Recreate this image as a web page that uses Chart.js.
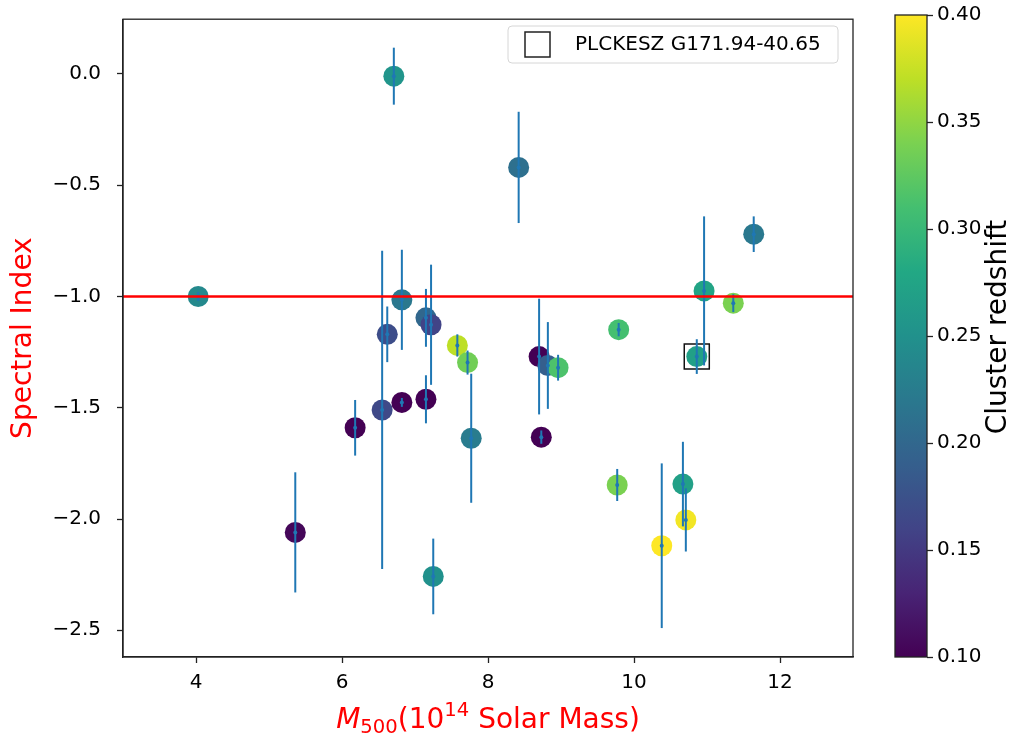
<!DOCTYPE html>
<html>
<head>
<meta charset="utf-8">
<script src="https://cdn.jsdelivr.net/npm/chart.js@4.4.1/dist/chart.umd.min.js"></script>
<style>
  html, body { margin: 0; padding: 0; background: #fff; }
  #wrap { position: relative; width: 1015px; height: 738px; }
  #mainChart { position: absolute; left: 0; top: 0; }
  #cbChart { position: absolute; left: 880px; top: 0; }
</style>
</head>
<body>
<div id="wrap">
  <canvas id="mainChart" width="1015" height="738"></canvas>
  <canvas id="cbChart" width="135" height="738"></canvas>
</div>
<script>
// cluster masses (1e14 Msun), spectral index, its error and redshift
const masses = [4.03, 5.36, 6.18, 6.55, 6.62, 6.71, 6.82, 6.82, 7.15, 7.22,
  7.15, 7.58, 7.72, 7.77, 7.25, 8.42, 8.70, 8.82, 8.96, 8.73,
  9.79, 9.77, 10.38, 10.67, 10.71, 10.86, 10.96, 11.36, 11.64];
const spectralIndex = [-1.00, -2.06, -1.59, -1.51, -1.17, -0.01, -1.015, -1.476, -1.096, -1.127,
  -1.462, -1.22, -1.297, -1.637, -2.258, -0.42, -1.27, -1.31, -1.32, -1.632,
  -1.149, -1.847, -2.12, -1.843, -2.004, -1.27, -0.975, -1.03, -0.72];
const indexErr = [0.02, 0.27, 0.125, 0.715, 0.125, 0.128, 0.225, 0.02, 0.13, 0.27,
  0.108, 0.05, 0.054, 0.29, 0.17, 0.25, 0.26, 0.195, 0.058, 0.03,
  0.03, 0.072, 0.37, 0.19, 0.142, 0.078, 0.335, 0.04, 0.08];
const redshift = [0.24, 0.105, 0.10, 0.166, 0.17, 0.255, 0.22, 0.10, 0.20, 0.16,
  0.10, 0.37, 0.335, 0.225, 0.25, 0.21, 0.10, 0.19, 0.315, 0.10,
  0.31, 0.34, 0.40, 0.27, 0.395, 0.27, 0.275, 0.34, 0.22];

const highlightName = 'PLCKESZ G171.94-40.65';
const highlightMass = [10.86];
const highlightIndex = [-1.27];
const referenceIndex = -1;

const xTicks = [4, 6, 8, 10, 12];
const yTicks = [0, -0.5, -1, -1.5, -2, -2.5];
const zTicks = [0.10, 0.15, 0.20, 0.25, 0.30, 0.35, 0.40];
const zMin = 0.10;
const zMax = 0.40;

const viridisStops = ['#440154', '#482475', '#414487', '#355f8d', '#2a788e', '#21918c',
  '#22a884', '#44bf70', '#7ad151', '#bddf26', '#fde725'];

function hexToRgb(h) {
  return [1, 3, 5].map((i) => parseInt(h.slice(i, i + 2), 16));
}

function viridis(t) {
  const tt = Math.max(0, Math.min(1, t));
  const p = tt * (viridisStops.length - 1);
  const i = Math.min(viridisStops.length - 2, Math.floor(p));
  const f = p - i;
  const a = hexToRgb(viridisStops[i]);
  const b = hexToRgb(viridisStops[i + 1]);
  const c = a.map((v, k) => Math.round(v + (b[k] - v) * f));
  return `rgb(${c[0]}, ${c[1]}, ${c[2]})`;
}

const zColor = (z) => viridis((z - zMin) / (zMax - zMin));

const tickFont = { family: 'DejaVu Sans', size: 20 };
const labelFont = 'DejaVu Sans';
const errColor = '#1f77b4';

const errorBars = {
  id: 'errorBars',
  afterDatasetsDraw(chart) {
    const { ctx, scales: { x, y } } = chart;
    ctx.save();
    ctx.strokeStyle = errColor;
    ctx.fillStyle = errColor;
    ctx.lineWidth = 2;
    masses.forEach((m, i) => {
      const px = x.getPixelForValue(m);
      ctx.beginPath();
      ctx.moveTo(px, y.getPixelForValue(spectralIndex[i] + indexErr[i]));
      ctx.lineTo(px, y.getPixelForValue(spectralIndex[i] - indexErr[i]));
      ctx.stroke();
      ctx.beginPath();
      ctx.arc(px, y.getPixelForValue(spectralIndex[i]), 2, 0, Math.PI * 2);
      ctx.fill();
    });
    // reference line
    const py = y.getPixelForValue(referenceIndex);
    ctx.strokeStyle = '#ff0000';
    ctx.lineWidth = 2.5;
    ctx.beginPath();
    ctx.moveTo(chart.chartArea.left, py);
    ctx.lineTo(chart.chartArea.right, py);
    ctx.stroke();
    ctx.restore();
  },
};

const frameAndLabels = {
  id: 'frameAndLabels',
  afterDraw(chart) {
    const { ctx, chartArea: a } = chart;
    ctx.save();
    ctx.strokeStyle = '#222';
    ctx.lineWidth = 1.3;
    ctx.strokeRect(a.left, a.top, a.right - a.left, a.bottom - a.top);

    // legend box
    const lx = 508, ly = 26, lw = 330, lh = 37;
    ctx.beginPath();
    ctx.roundRect(lx, ly, lw, lh, 4);
    ctx.fillStyle = 'rgba(255,255,255,0.8)';
    ctx.fill();
    ctx.strokeStyle = '#d6d6d6';
    ctx.lineWidth = 1;
    ctx.stroke();
    ctx.strokeStyle = '#222';
    ctx.lineWidth = 1.5;
    ctx.strokeRect(525, 32, 25, 25);
    ctx.fillStyle = '#000';
    ctx.font = `20px ${labelFont}`;
    ctx.textBaseline = 'middle';
    ctx.textAlign = 'left';
    ctx.fillText(chart.data.datasets[1].label, 575, 45);

    // x axis title with sub/superscripts
    const big = 28, small = 19.6;
    const parts = [
      { t: 'M', f: `italic ${big}px ${labelFont}`, dy: 0 },
      { t: '500', f: `${small}px ${labelFont}`, dy: 5 },
      { t: '(10', f: `${big}px ${labelFont}`, dy: 0 },
      { t: '14', f: `${small}px ${labelFont}`, dy: -12 },
      { t: ' Solar Mass)', f: `${big}px ${labelFont}`, dy: 0 },
    ];
    let total = 0;
    parts.forEach((p) => { ctx.font = p.f; p.w = ctx.measureText(p.t).width; total += p.w; });
    let cx = (a.left + a.right) / 2 - total / 2;
    const base = 728;
    ctx.fillStyle = '#ff0000';
    ctx.textBaseline = 'alphabetic';
    parts.forEach((p) => {
      ctx.font = p.f;
      ctx.fillText(p.t, cx, base + p.dy);
      cx += p.w;
    });
    ctx.restore();
  },
};

const minusFmt = (v, digits) => (v < 0 ? '\u2212' : '') + Math.abs(v).toFixed(digits);

new Chart(document.getElementById('mainChart'), {
  type: 'scatter',
  data: {
    datasets: [
      {
        label: 'clusters',
        data: masses.map((m, i) => ({ x: m, y: spectralIndex[i] })),
        pointRadius: 10.5,
        pointHoverRadius: 10.5,
        pointBackgroundColor: redshift.map(zColor),
        pointBorderWidth: 0,
        order: 2,
      },
      {
        label: highlightName,
        data: highlightMass.map((m, i) => ({ x: m, y: highlightIndex[i] })),
        pointStyle: 'rect',
        pointRadius: 17.7,
        pointHoverRadius: 17.7,
        pointBackgroundColor: 'rgba(0,0,0,0)',
        pointBorderColor: '#111',
        pointBorderWidth: 1.5,
        order: 1,
      },
    ],
  },
  options: {
    responsive: false,
    devicePixelRatio: 1,
    animation: false,
    layout: { padding: { top: 14, right: 162, left: 0, bottom: 0 } },
    plugins: { legend: { display: false }, tooltip: { enabled: false } },
    scales: {
      x: {
        type: 'linear',
        min: 3,
        max: 13,
        afterBuildTicks: (s) => { s.ticks = xTicks.map((v) => ({ value: v })); },
        afterFit: (s) => { s.height = 81; s.paddingLeft = 0; s.paddingRight = 0; },
        grid: { drawOnChartArea: false, tickLength: 6, tickColor: '#222', tickWidth: 1.3 },
        border: { color: '#222', width: 1.3 },
        ticks: { font: tickFont, color: '#000', padding: 8, maxRotation: 0, autoSkip: false },
      },
      y: {
        type: 'linear',
        min: -2.62,
        max: 0.246,
        afterBuildTicks: (s) => { s.ticks = yTicks.map((v) => ({ value: v })); },
        afterFit: (s) => { s.width = 123; s.paddingTop = 0; s.paddingBottom = 0; },
        grid: { drawOnChartArea: false, tickLength: 6, tickColor: '#222', tickWidth: 1.3 },
        border: { color: '#222', width: 1.3 },
        ticks: {
          font: tickFont, color: '#000', padding: 16, autoSkip: false,
          callback: (v) => minusFmt(v, 1),
        },
        title: {
          display: true,
          text: 'Spectral Index',
          color: '#ff0000',
          font: { family: labelFont, size: 28 },
          padding: { top: 7, bottom: 0 },
        },
      },
    },
  },
  plugins: [errorBars, frameAndLabels],
});

// colorbar
const colorbarFill = {
  id: 'colorbarFill',
  beforeDatasetsDraw(chart) {
    const { ctx, chartArea: a, scales: { y } } = chart;
    ctx.save();
    const g = ctx.createLinearGradient(0, y.getPixelForValue(zMin), 0, y.getPixelForValue(zMax));
    viridisStops.forEach((c, i) => g.addColorStop(i / (viridisStops.length - 1), c));
    ctx.fillStyle = g;
    ctx.fillRect(a.left, a.top, a.right - a.left, a.bottom - a.top);
    ctx.strokeStyle = '#222';
    ctx.lineWidth = 1.3;
    ctx.strokeRect(a.left, a.top, a.right - a.left, a.bottom - a.top);
    // colorbar label, reading bottom to top
    ctx.translate(119, (a.top + a.bottom) / 2 - 9);
    ctx.rotate(-Math.PI / 2);
    ctx.fillStyle = '#000';
    ctx.font = `28px ${labelFont}`;
    ctx.textAlign = 'center';
    ctx.textBaseline = 'middle';
    ctx.fillText('Cluster redshift', 0, 0);
    ctx.restore();
  },
};

new Chart(document.getElementById('cbChart'), {
  type: 'scatter',
  data: { datasets: [{ data: [] }] },
  options: {
    responsive: false,
    devicePixelRatio: 1,
    animation: false,
    layout: { padding: { top: 15, right: 0, left: 15, bottom: 81 } },
    plugins: { legend: { display: false }, tooltip: { enabled: false } },
    scales: {
      x: { display: false, min: 0, max: 1 },
      y: {
        position: 'right',
        min: zMin,
        max: zMax,
        afterBuildTicks: (s) => { s.ticks = zTicks.map((v) => ({ value: v })); },
        afterFit: (s) => { s.width = 88; s.paddingTop = 0; s.paddingBottom = 0; },
        grid: { drawOnChartArea: false, tickLength: 6, tickColor: '#222', tickWidth: 1.3 },
        border: { display: false },
        ticks: { font: tickFont, color: '#000', padding: 4, callback: (v) => v.toFixed(2) },
      },
    },
  },
  plugins: [colorbarFill],
});
</script>
</body>
</html>
